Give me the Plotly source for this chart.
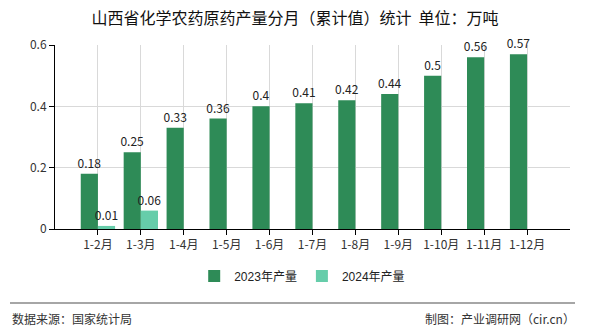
import plotly.graph_objects as go

categories = ["1-2月", "1-3月", "1-4月", "1-5月", "1-6月", "1-7月", "1-8月", "1-9月", "1-10月", "1-11月", "1-12月"]
values_2023 = [0.18, 0.25, 0.33, 0.36, 0.4, 0.41, 0.42, 0.44, 0.5, 0.56, 0.57]
cats_2024 = ["1-2月", "1-3月"]
values_2024 = [0.01, 0.06]
y_ticks = [0, 0.2, 0.4, 0.6]
y_ticklabels = ["0", "0.2", "0.4", "0.6"]

W, H = 590, 330
L, R, T, B = 55, 20, 45, 101
pw, ph = W - L - R, H - T - B

def px_x(x):
    return (x - L) / pw

def px_y(y):
    return (H - B - y) / ph

lab_font = dict(family="Noto Sans CJK SC, DejaVu Sans", size=12, color="#222222")

fig = go.Figure()
fig.add_trace(go.Bar(
    x=categories, y=values_2023, name="2023年产量",
    marker=dict(color="#2E8B57", line=dict(width=0)),
    text=[f"{v:g}" for v in values_2023], textposition="outside",
    textfont=lab_font, cliponaxis=False,
))
fig.add_trace(go.Bar(
    x=cats_2024, y=values_2024, name="2024年产量",
    marker=dict(color="#66CDAA", line=dict(width=0)),
    text=[f"{v:g}" for v in values_2024], textposition="outside",
    textfont=lab_font, cliponaxis=False,
))

fig.update_layout(
    width=W, height=H,
    margin=dict(l=L, r=R, t=T, b=B),
    paper_bgcolor="white", plot_bgcolor="white",
    barmode="group", bargap=0.2, bargroupgap=0,
    font=dict(family="Noto Sans CJK SC, DejaVu Sans", size=12, color="#333333"),
    title=dict(text="山西省化学农药原药产量分月（累计值）统计  单位：万吨",
               x=0.5, xanchor="center", y=1 - 18 / H, yanchor="middle",
               font=dict(size=16, color="#111111")),
    showlegend=True,
    legend=dict(orientation="h", x=0.48, xanchor="center", y=px_y(276), yanchor="middle",
                font=dict(family="Liberation Sans, Noto Sans CJK SC", size=12, color="#222222"),
                traceorder="normal"),
    uniformtext=dict(minsize=12, mode="show"),
)
fig.update_xaxes(
    type="category", categoryorder="array", categoryarray=categories,
    range=[-1, 11], showgrid=True, gridcolor="#d9d9d9", gridwidth=1,
    showline=True, linecolor="#000000", linewidth=1,
    ticks="outside", ticklen=5, tickcolor="#000000",
    tickfont=dict(size=12, color="#333333"), zeroline=False,
)
fig.update_yaxes(
    range=[0, 0.6], tickvals=y_ticks, ticktext=y_ticklabels,
    showgrid=True, gridcolor="#d9d9d9", gridwidth=1,
    showline=True, linecolor="#000000", linewidth=1,
    ticks="outside", ticklen=5, tickcolor="#000000",
    tickfont=dict(size=12, color="#333333"), zeroline=False,
)
fig.add_shape(type="line", xref="paper", yref="paper",
              x0=px_x(10), x1=px_x(575), y0=px_y(303), y1=px_y(303),
              line=dict(color="#888888", width=1.5))
fig.add_annotation(text="数据来源：国家统计局", xref="paper", yref="paper",
                   x=px_x(10), y=px_y(318), xanchor="left", yanchor="middle",
                   showarrow=False, font=dict(size=12, color="#333333"))
fig.add_annotation(text="制图：产业调研网（cir.cn）", xref="paper", yref="paper",
                   x=px_x(577), y=px_y(318), xanchor="right", yanchor="middle",
                   showarrow=False, font=dict(size=12, color="#333333"))

fig.write_html("out.html")
